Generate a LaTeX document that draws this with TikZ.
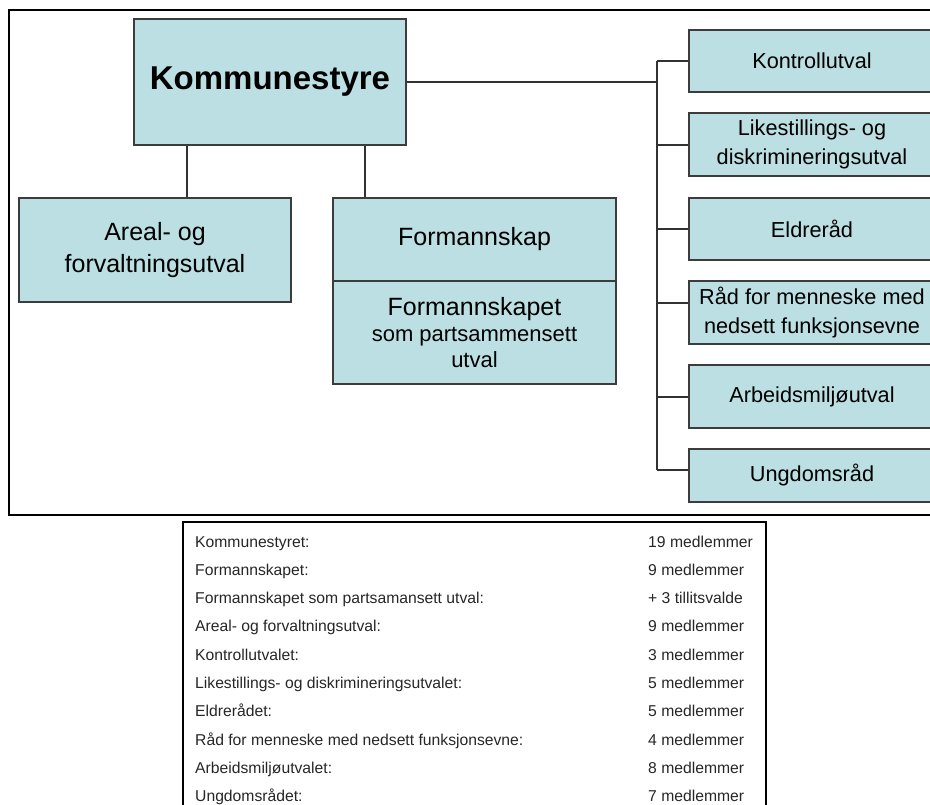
\documentclass[tikz,border=0pt]{standalone}
\usepackage{fontspec}
\setmainfont{Liberation Sans}
\usetikzlibrary{calc}
\definecolor{boxfill}{RGB}{187,223,226}
\definecolor{boxline}{RGB}{60,60,60}
\definecolor{conline}{RGB}{50,50,50}
\tikzset{
  orgbox/.style={draw=boxline, fill=boxfill, line width=1.3pt, rectangle, inner sep=0pt, align=center},
  conn/.style={draw=conline, line width=1.2pt},
  rbox/.style={orgbox, minimum width=246pt, font=\fontsize{21.7}{28.5}\selectfont},
  tabtxt/.style={anchor=base west, inner sep=0pt, font=\fontsize{15.7}{18}\selectfont, text=black!85}
}
\begin{document}
\begin{tikzpicture}[x=1pt,y=-1pt]
\useasboundingbox (0,0) rectangle (930,805);
% outer frame
\draw[line width=2.5pt] (9,10) rectangle (950,515);
% main boxes
\node[orgbox, minimum width=272pt, minimum height=126pt, font=\fontsize{33}{38}\selectfont\bfseries] (K) at (270,82) {Kommunestyre};
\node[orgbox, minimum width=272pt, minimum height=104pt, font=\fontsize{25}{32}\selectfont] (A) at (155,250) {Areal- og\\forvaltningsutval};
\node[orgbox, minimum width=283pt, minimum height=83pt, font=\fontsize{25}{32}\selectfont] (F) at (474.5,239.5) {Formannskap};
\node[orgbox, minimum width=283pt, minimum height=103pt, font=\fontsize{22}{26}\selectfont] (FP) at (474.5,332.5) {{\fontsize{25}{26}\selectfont Formannskapet}\\som partsammensett\\utval};
% right boxes
\node[rbox, minimum height=62pt] (r1) at (812,61) {Kontrollutval};
\node[rbox, minimum height=63pt] (r2) at (812,144.5) {Likestillings- og\\diskrimineringsutval};
\node[rbox, minimum height=62pt] (r3) at (812,229) {Eldreråd};
\node[rbox, minimum height=63pt] (r4) at (812,312.5) {Råd for menneske med\\nedsett funksjonsevne};
\node[rbox, minimum height=63pt] (r5) at (812,396.5) {Arbeidsmiljøutval};
\node[rbox, minimum height=53pt] (r6) at (812,475.5) {Ungdomsråd};
% connectors
\coordinate (bt) at (657,61);
\coordinate (bb) at (657,470);
\draw[conn] (K.south -| 187,0) -- (A.north -| 187,0);
\draw[conn] (K.south -| 365,0) -- (F.north -| 365,0);
\draw[conn] (K.east) -- (K.east -| bt);
\draw[conn] (bt) -- (bb);
\draw[conn] (bt) -- (r1.west);
\draw[conn] ($(r2.west -| bt)+(0,0.5)$) -- ($(r2.west)+(0,0.5)$);
\draw[conn] (r3.west -| bt) -- (r3.west);
\draw[conn] ($(r4.west -| bt)+(0,-9.5)$) -- ($(r4.west)+(0,-9.5)$);
\draw[conn] ($(r5.west -| bt)+(0,0.5)$) -- ($(r5.west)+(0,0.5)$);
\draw[conn] (bb) -- (bb -| r6.west);
% table
\draw[line width=2.2pt] (183,522) rectangle (766,820);
\foreach \i/\a/\b in {0/Kommunestyret:/19 medlemmer,
  1/Formannskapet:/9 medlemmer,
  2/Formannskapet som partsamansett utval:/+ 3 tillitsvalde,
  3/Areal- og forvaltningsutval:/9 medlemmer,
  4/Kontrollutvalet:/3 medlemmer,
  5/Likestillings- og diskrimineringsutvalet:/5 medlemmer,
  6/Eldrerådet:/5 medlemmer,
  7/Råd for menneske med nedsett funksjonsevne:/4 medlemmer,
  8/Arbeidsmiljøutvalet:/8 medlemmer,
  9/Ungdomsrådet:/7 medlemmer}{
  \node[tabtxt] (L\i) at (195,547+28.33*\i) {\a};
  \node[tabtxt] (R\i) at (648,547+28.33*\i) {\b};
}
\end{tikzpicture}
\end{document}
